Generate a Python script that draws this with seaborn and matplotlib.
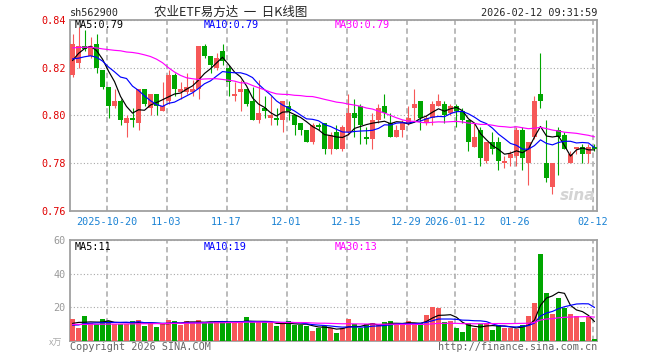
import numpy as np
import pandas as pd
import seaborn as sns
import matplotlib.pyplot as plt

# daily candles, 2025-10-10 .. 2026-02-12
open_ = [0.817, 0.822, 0.829, 0.825, 0.830, 0.819, 0.812, 0.804, 0.806, 0.797,
         0.799, 0.797, 0.811, 0.803, 0.809, 0.802, 0.806, 0.817, 0.810, 0.810,
         0.810, 0.811, 0.829, 0.825, 0.820, 0.827, 0.820, 0.808, 0.810, 0.811,
         0.806, 0.798, 0.803, 0.799, 0.799, 0.798, 0.804, 0.800, 0.797, 0.794,
         0.789, 0.796, 0.797, 0.786, 0.793, 0.786, 0.793, 0.801, 0.804, 0.791,
         0.790, 0.798, 0.804, 0.797, 0.791, 0.794, 0.797, 0.803, 0.806, 0.797,
         0.799, 0.804, 0.805, 0.801, 0.804, 0.802, 0.798, 0.787, 0.794, 0.781,
         0.789, 0.789, 0.780, 0.782, 0.783, 0.794, 0.780, 0.791, 0.809, 0.780,
         0.770, 0.794, 0.792, 0.780, 0.786, 0.787, 0.784, 0.787]
high = [0.834, 0.837, 0.836, 0.833, 0.834, 0.819, 0.812, 0.811, 0.807, 0.800,
        0.803, 0.811, 0.811, 0.809, 0.809, 0.814, 0.819, 0.818, 0.814, 0.818,
        0.815, 0.829, 0.830, 0.825, 0.826, 0.830, 0.821, 0.814, 0.815, 0.811,
        0.812, 0.815, 0.808, 0.808, 0.803, 0.806, 0.806, 0.800, 0.797, 0.794,
        0.797, 0.797, 0.797, 0.793, 0.796, 0.796, 0.809, 0.807, 0.805, 0.795,
        0.801, 0.805, 0.809, 0.801, 0.796, 0.798, 0.804, 0.811, 0.806, 0.800,
        0.806, 0.809, 0.806, 0.805, 0.805, 0.803, 0.798, 0.797, 0.795, 0.789,
        0.793, 0.791, 0.783, 0.785, 0.795, 0.795, 0.789, 0.808, 0.826, 0.798,
        0.780, 0.795, 0.793, 0.785, 0.787, 0.788, 0.788, 0.788]
low = [0.816, 0.820, 0.827, 0.824, 0.818, 0.811, 0.799, 0.803, 0.796, 0.791,
       0.795, 0.794, 0.804, 0.800, 0.800, 0.802, 0.805, 0.808, 0.807, 0.809,
       0.808, 0.807, 0.824, 0.818, 0.819, 0.821, 0.808, 0.806, 0.802, 0.804,
       0.798, 0.797, 0.799, 0.796, 0.796, 0.793, 0.798, 0.792, 0.792, 0.789,
       0.788, 0.794, 0.784, 0.784, 0.786, 0.785, 0.792, 0.791, 0.788, 0.788,
       0.786, 0.797, 0.799, 0.791, 0.791, 0.791, 0.796, 0.798, 0.794, 0.796,
       0.796, 0.804, 0.797, 0.800, 0.795, 0.797, 0.785, 0.787, 0.779, 0.780,
       0.784, 0.777, 0.778, 0.779, 0.779, 0.777, 0.771, 0.790, 0.803, 0.772,
       0.767, 0.775, 0.786, 0.780, 0.784, 0.780, 0.780, 0.785]
close = [0.830, 0.829, 0.828, 0.829, 0.820, 0.812, 0.804, 0.806, 0.798, 0.799,
         0.798, 0.811, 0.805, 0.809, 0.804, 0.804, 0.817, 0.811, 0.811, 0.812,
         0.811, 0.829, 0.825, 0.821, 0.824, 0.823, 0.814, 0.809, 0.811, 0.805,
         0.798, 0.801, 0.802, 0.800, 0.798, 0.806, 0.802, 0.796, 0.794, 0.789,
         0.796, 0.795, 0.786, 0.792, 0.786, 0.795, 0.801, 0.799, 0.796, 0.790,
         0.798, 0.803, 0.801, 0.791, 0.794, 0.797, 0.799, 0.805, 0.799, 0.799,
         0.805, 0.806, 0.800, 0.804, 0.802, 0.798, 0.789, 0.791, 0.782, 0.789,
         0.786, 0.781, 0.781, 0.784, 0.794, 0.782, 0.789, 0.806, 0.806, 0.774,
         0.780, 0.791, 0.786, 0.784, 0.787, 0.784, 0.787, 0.786]
volume = [12.9, 7.6, 14.7, 10.5, 9.7, 12.9, 11.7, 9.9, 9.9, 9.9,
          11.7, 12.3, 8.7, 10.7, 8.3, 10.7, 12.3, 11.7, 9.3, 11.7,
          10.9, 12.3, 10.7, 10.7, 11.7, 11.7, 10.9, 10.9, 10.9, 14.1,
          10.9, 10.9, 10.9, 10.3, 8.7, 10.3, 11.7, 9.3, 9.3, 8.7,
          5.8, 7.8, 8.7, 7.4, 4.8, 7.4, 12.9, 9.7, 7.8, 9.7,
          10.3, 9.3, 10.9, 11.7, 9.7, 9.7, 11.7, 10.3, 10.3, 15.3,
          20.1, 19.5, 10.9, 11.7, 7.6, 5.2, 10.7, 7.6, 9.7, 10.7,
          6.4, 9.3, 7.6, 7.6, 7.0, 9.3, 14.9, 22.5, 51.7, 28.6,
          15.9, 25.6, 19.3, 15.9, 14.9, 10.9, 14.3, 1.0]

# moving averages at the left edge need history outside the window
ma5_head = [0.823, 0.826, 0.828, 0.829]
ma10_head = [0.8237, 0.8240, 0.8246, 0.8250, 0.8244, 0.8228, 0.8203, 0.8183, 0.8161]
ma30_head = [0.8283, 0.8285, 0.8286, 0.8286, 0.8283, 0.8279, 0.8276, 0.8273, 0.8271,
             0.8266, 0.8264, 0.8260, 0.8254, 0.8247, 0.8236, 0.8221, 0.8200, 0.8182,
             0.8168, 0.8158, 0.8154, 0.8151, 0.8153, 0.8154, 0.8154, 0.8151, 0.8148,
             0.8144, 0.8137]
vma5_head = [10.3, 10.9, 11.0, 11.2]
vma10_head = [9.3, 9.4, 10.2, 10.4, 10.6, 10.7, 10.8, 10.9, 10.9]
vma30_head = [9.7, 9.7, 9.7, 9.8, 9.8, 9.8, 9.9, 9.9, 9.9, 10.0, 10.0, 10.1, 10.1,
              10.1, 10.2, 10.2, 10.3, 10.3, 10.4, 10.4, 10.5, 10.5, 10.6, 10.6,
              10.7, 10.7, 10.8, 10.8, 10.9]

date_idx = [6, 16, 26, 36, 46, 56, 64, 74, 87]
date_labels = ['2025-10-20', '11-03', '11-17', '12-01', '12-15', '12-29',
               '2026-01-12', '01-26', '02-12']
price_ticks = [0.76, 0.78, 0.80, 0.82, 0.84]
vol_ticks = [20, 40, 60]
price_ma_text = ['MA5:0.79', 'MA10:0.79', 'MA30:0.79']
vol_ma_text = ['MA5:11', 'MA10:19', 'MA30:13']

RED = '#f65858'
GREEN = '#00a600'
GRID = '#a8a8a8'

df = pd.DataFrame({'open': open_, 'high': high, 'low': low,
                   'close': close, 'volume': volume})
df['i'] = np.arange(len(df))
df['dir'] = np.where(df['close'] >= df['open'], 'up', 'down')
cols = df['dir'].map({'up': RED, 'down': GREEN})


def moving(s, n, head):
    m = s.rolling(n).mean()
    m.iloc[:len(head)] = head
    return m


df['ma5'] = moving(df['close'], 5, ma5_head)
df['ma10'] = moving(df['close'], 10, ma10_head)
df['ma30'] = moving(df['close'], 30, ma30_head)
df['vma5'] = moving(df['volume'], 5, vma5_head)
df['vma10'] = moving(df['volume'], 10, vma10_head)
df['vma30'] = moving(df['volume'], 30, vma30_head)

sns.set_style('white')
plt.rcParams['font.family'] = ['DejaVu Sans Mono', 'Noto Sans CJK SC']

W, H = 660, 360
fig = plt.figure(figsize=(6.6, 3.6), dpi=100)
ax = fig.add_axes([70 / W, 1 - 211 / H, 527 / W, 191 / H])
axv = fig.add_axes([70 / W, 1 - 340.7 / H, 527 / W, 100.7 / H])

# candles
body_lo = np.minimum(df['open'], df['close'])
body_h = np.maximum((df['close'] - df['open']).abs(), 0.0002)
ax.vlines(df['i'], df['low'], df['high'], colors=cols, lw=0.8, zorder=2)
ax.bar(df['i'], body_h, bottom=body_lo, width=0.82, color=cols, lw=0, zorder=3)

ma_cols = ['black', '#0000ff', '#ff00ff']
for k, c in zip(['ma5', 'ma10', 'ma30'], ma_cols):
    sns.lineplot(data=df, x='i', y=k, color=c, lw=0.85, ax=ax, zorder=4)

# volume
axv.bar(df['i'], df['volume'], width=0.82, color=cols, lw=0, zorder=3)
for k, c in zip(['vma5', 'vma10', 'vma30'], ma_cols):
    sns.lineplot(data=df, x='i', y=k, color=c, lw=0.85, ax=axv, zorder=4)

grid_x = [d - 0.33 for d in date_idx]
for a in (ax, axv):
    a.set_xlim(-0.42, 87.42)
    a.set_xlabel('')
    a.set_ylabel('')
    a.set_xticks(grid_x)
    a.grid(axis='x', color=GRID, lw=1.1, ls=(0, (3.5, 2.3)))
    a.grid(axis='y', color=GRID, lw=0.8, ls=(0, (1, 2)))
    a.set_axisbelow(True)
    for s in a.spines.values():
        s.set_color('#a0a0a0')
        s.set_linewidth(1.3)

ax.set_ylim(0.76, 0.84)
ax.set_yticks(price_ticks, labels=[f'{t:.2f}' for t in price_ticks])
ax.set_xticklabels(date_labels)
ax.tick_params(axis='x', length=0, pad=4, labelsize=7.3, labelcolor='#1a82d4')
ax.tick_params(axis='y', length=0, pad=3, labelsize=7.3, labelcolor='#e00000')

axv.set_ylim(0, 60)
axv.set_yticks(vol_ticks, labels=[str(t) for t in vol_ticks])
axv.set_xticklabels([])
axv.tick_params(axis='x', length=0)
axv.tick_params(axis='y', length=0, pad=3, labelsize=7.3, labelcolor='#999999')


def px(x, y):
    return x / W, 1 - y / H


fs = 7.3
fig.text(*px(70, 13.5), 'sh562900', ha='left', va='center', fontsize=fs)
fig.text(*px(231, 12.5), '农业ETF易方达  一  日K线图', ha='center', va='center',
         fontsize=9, family=['Noto Sans CJK SC', 'DejaVu Sans'])
fig.text(*px(597, 13.5), '2026-02-12 09:31:59', ha='right', va='center', fontsize=fs)

for x0, t, c in zip([75, 204, 335], price_ma_text, ma_cols):
    fig.text(*px(x0, 25.5), t, ha='left', va='center', fontsize=fs, color=c)
for x0, t, c in zip([75, 204, 335], vol_ma_text, ma_cols):
    fig.text(*px(x0, 246.5), t, ha='left', va='center', fontsize=fs, color=c)

fig.text(*px(62, 343), 'x万', ha='right', va='center', fontsize=6.5,
         color='#aaaaaa', family=['Noto Sans CJK SC', 'DejaVu Sans'])
fig.text(*px(70, 346.5), 'Copyright 2026 SINA.COM', ha='left', va='center',
         fontsize=fs, color='#666666')
fig.text(*px(597, 346.5), 'http://finance.sina.com.cn', ha='right', va='center',
         fontsize=fs, color='#666666')
fig.text(*px(595, 203), 'sina', ha='right', va='bottom', fontsize=11,
         color='#d4d4d4', style='italic', weight='bold', family='DejaVu Sans')

fig.savefig('out.png', dpi=100)
